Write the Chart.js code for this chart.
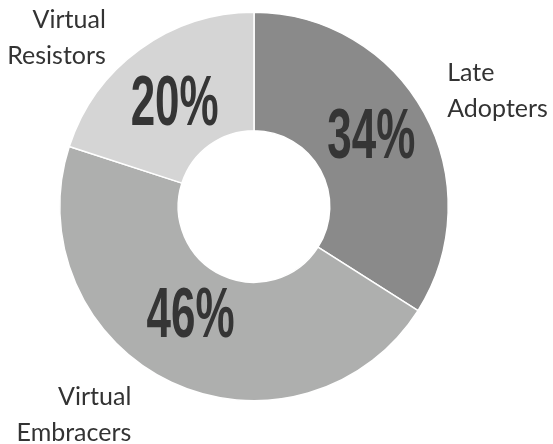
<!DOCTYPE html>
<html>
<head>
<meta charset="utf-8">
<script src="https://cdn.jsdelivr.net/npm/chart.js@4"></script>
<style>
  html, body { margin: 0; padding: 0; background: #fff; }
</style>
</head>
<body>
<canvas id="donutChart" width="553" height="444"></canvas>
<script>
// data
const categories = [['Late', 'Adopters'], ['Virtual', 'Embracers'], ['Virtual', 'Resistors']];
const shares = [34, 46, 20];
const sliceColors = ['#8a8a8a', '#aeafae', '#d5d5d5'];

// label tweaks (px) relative to the anchor on each arc
const nameOffsets = [[23, -22], [-40, 33], [-34, -11]];
const pctOffsets = [[-1, -5], [-6, -13], [0, 6]];

const labelPlugin = {
    id: 'sliceLabels',
    afterDatasetsDraw(chart) {
        const ctx = chart.ctx;
        const meta = chart.getDatasetMeta(0);
        meta.data.forEach((arc, i) => {
            const p = arc.getProps(['x', 'y', 'startAngle', 'endAngle', 'outerRadius', 'innerRadius'], true);
            const mid = (p.startAngle + p.endAngle) / 2;

            // big percentage, squeezed to look condensed
            const c = arc.tooltipPosition(true);
            const txt = shares[i] + '%';
            ctx.save();
            ctx.font = 'bold 70px "Liberation Sans", Arial, sans-serif';
            const w = ctx.measureText(txt).width;
            const sx = 88 / w;
            ctx.translate(c.x + pctOffsets[i][0], c.y + pctOffsets[i][1]);
            ctx.scale(sx, 1);
            ctx.fillStyle = '#353535';
            ctx.textAlign = 'center';
            ctx.textBaseline = 'middle';
            ctx.fillText(txt, 0, 2);
            ctx.restore();

            // category name outside the ring
            const ax = p.x + Math.cos(mid) * p.outerRadius + nameOffsets[i][0];
            const ay = p.y + Math.sin(mid) * p.outerRadius + nameOffsets[i][1];
            const lines = categories[i];
            const lh = 36;
            ctx.save();
            ctx.font = '25px Lato, "Open Sans", sans-serif';
            ctx.fillStyle = '#333333';
            ctx.textAlign = Math.cos(mid) > 0 ? 'left' : 'right';
            ctx.textBaseline = 'middle';
            lines.forEach((ln, k) => {
                ctx.fillText(ln, ax, ay + (k - (lines.length - 1) / 2) * lh);
            });
            ctx.restore();
        });
    }
};

new Chart(document.getElementById('donutChart').getContext('2d'), {
    type: 'doughnut',
    data: {
        labels: categories.map(c => c.join(' ')),
        datasets: [{
            data: shares,
            backgroundColor: sliceColors,
            borderColor: '#ffffff',
            borderWidth: 1.5
        }]
    },
    options: {
        responsive: false,
        animation: false,
        cutout: '39%',
        layout: { padding: { left: 59, right: 104, top: 11, bottom: 42 } },
        plugins: {
            legend: { display: false },
            tooltip: { enabled: false }
        }
    },
    plugins: [labelPlugin]
});
</script>
</body>
</html>
